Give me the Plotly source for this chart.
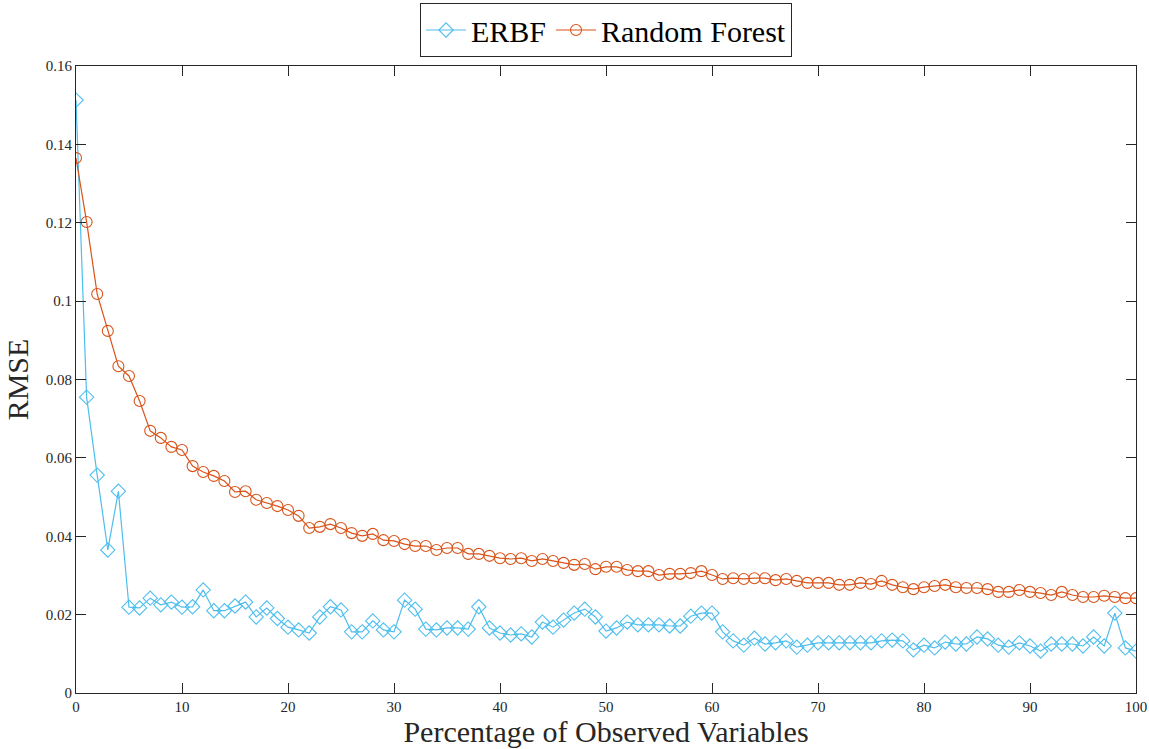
import plotly.graph_objects as go

# Percentage of observed variables (0..100 in steps of 1)
pct_observed = list(range(0, 101))

# RMSE of the ERBF model
rmse_erbf = [
    0.1513, 0.0755, 0.0556, 0.0365, 0.0515, 0.0219, 0.0217, 0.0242, 0.0225, 0.0232,
    0.0219, 0.0220, 0.0263, 0.0210, 0.0210, 0.0222, 0.0232, 0.0194, 0.0217, 0.0190,
    0.0168, 0.0161, 0.0153, 0.0194, 0.0220, 0.0212, 0.0156, 0.0156, 0.0184, 0.0161,
    0.0156, 0.0237, 0.0214, 0.0163, 0.0161, 0.0166, 0.0166, 0.0163, 0.0220, 0.0166,
    0.0153, 0.0148, 0.0151, 0.0143, 0.0181, 0.0168, 0.0186, 0.0204, 0.0214, 0.0194,
    0.0158, 0.0166, 0.0181, 0.0174, 0.0174, 0.0174, 0.0171, 0.0171, 0.0196, 0.0204,
    0.0204, 0.0156, 0.0133, 0.0122, 0.0140, 0.0125, 0.0128, 0.0133, 0.0117, 0.0122,
    0.0128, 0.0128, 0.0128, 0.0128, 0.0128, 0.0128, 0.0133, 0.0135, 0.0133, 0.0110,
    0.0122, 0.0115, 0.0130, 0.0125, 0.0125, 0.0143, 0.0138, 0.0122, 0.0117, 0.0128,
    0.0120, 0.0107, 0.0125, 0.0125, 0.0125, 0.0120, 0.0143, 0.0120, 0.0204, 0.0115,
    0.0107,
]

# RMSE of the Random Forest model
rmse_rf = [
    0.1365, 0.1202, 0.1018, 0.0924, 0.0834, 0.0809, 0.0745, 0.0669, 0.0651, 0.0628,
    0.0620, 0.0579, 0.0564, 0.0554, 0.0541, 0.0513, 0.0515, 0.0493, 0.0485, 0.0477,
    0.0467, 0.0452, 0.0421, 0.0424, 0.0431, 0.0421, 0.0408, 0.0401, 0.0406, 0.0390,
    0.0388, 0.0380, 0.0375, 0.0375, 0.0365, 0.0370, 0.0370, 0.0355, 0.0355, 0.0350,
    0.0344, 0.0342, 0.0344, 0.0337, 0.0342, 0.0337, 0.0332, 0.0327, 0.0329, 0.0316,
    0.0322, 0.0322, 0.0314, 0.0311, 0.0311, 0.0301, 0.0304, 0.0304, 0.0306, 0.0311,
    0.0301, 0.0291, 0.0293, 0.0291, 0.0293, 0.0293, 0.0288, 0.0291, 0.0286, 0.0281,
    0.0281, 0.0281, 0.0276, 0.0276, 0.0281, 0.0278, 0.0286, 0.0276, 0.0270, 0.0265,
    0.0270, 0.0273, 0.0276, 0.0270, 0.0268, 0.0268, 0.0265, 0.0258, 0.0258, 0.0263,
    0.0258, 0.0255, 0.0250, 0.0258, 0.0250, 0.0245, 0.0245, 0.0248, 0.0245, 0.0242,
    0.0242,
]

x_ticks = [0, 10, 20, 30, 40, 50, 60, 70, 80, 90, 100]
y_ticks = [0, 0.02, 0.04, 0.06, 0.08, 0.1, 0.12, 0.14, 0.16]
y_tick_text = ["0", "0.02", "0.04", "0.06", "0.08", "0.1", "0.12", "0.14", "0.16"]

BLUE = "#4DBEEE"
ORANGE = "#D95319"
AXIS = "#262626"
FONT = "Liberation Serif, DejaVu Serif, serif"

fig = go.Figure()
fig.add_trace(go.Scatter(
    x=pct_observed, y=rmse_erbf, name="ERBF", mode="lines+markers",
    line=dict(color=BLUE, width=1.2),
    marker=dict(symbol="diamond-open", size=11, color=BLUE, line=dict(width=1.1)),
))
fig.add_trace(go.Scatter(
    x=pct_observed, y=rmse_rf, name="Random Forest", mode="lines+markers",
    line=dict(color=ORANGE, width=1.2),
    marker=dict(symbol="circle-open", size=11, color=ORANGE, line=dict(width=1.1)),
))

axis_common = dict(
    showgrid=False, zeroline=False, showline=True, linecolor=AXIS, linewidth=1.2,
    mirror="allticks", ticks="inside", ticklen=10, tickwidth=1.2, tickcolor=AXIS,
    tickfont=dict(family=FONT, size=15, color=AXIS), automargin=False,
)

fig.update_layout(
    width=1149, height=749,
    margin=dict(l=76, r=13, t=66, b=56),
    paper_bgcolor="white", plot_bgcolor="white",
    font=dict(family=FONT, color="black"),
    showlegend=True,
    legend=dict(
        orientation="h", x=0.5, xanchor="center", y=0.996, yanchor="top",
        yref="container", bordercolor=AXIS, borderwidth=1, bgcolor="white",
        font=dict(family=FONT, size=30, color="black"),
        itemwidth=40, tracegroupgap=0,
    ),
    xaxis=dict(
        range=[0, 100], tickvals=x_ticks,
        title=dict(text="Percentage of Observed Variables",
                   font=dict(family=FONT, size=30, color=AXIS), standoff=6),
        **axis_common,
    ),
    yaxis=dict(
        range=[0, 0.16], tickvals=y_ticks, ticktext=y_tick_text,
        title=dict(text="RMSE", font=dict(family=FONT, size=30, color=AXIS), standoff=8),
        **axis_common,
    ),
)

fig.write_html("out.html")
